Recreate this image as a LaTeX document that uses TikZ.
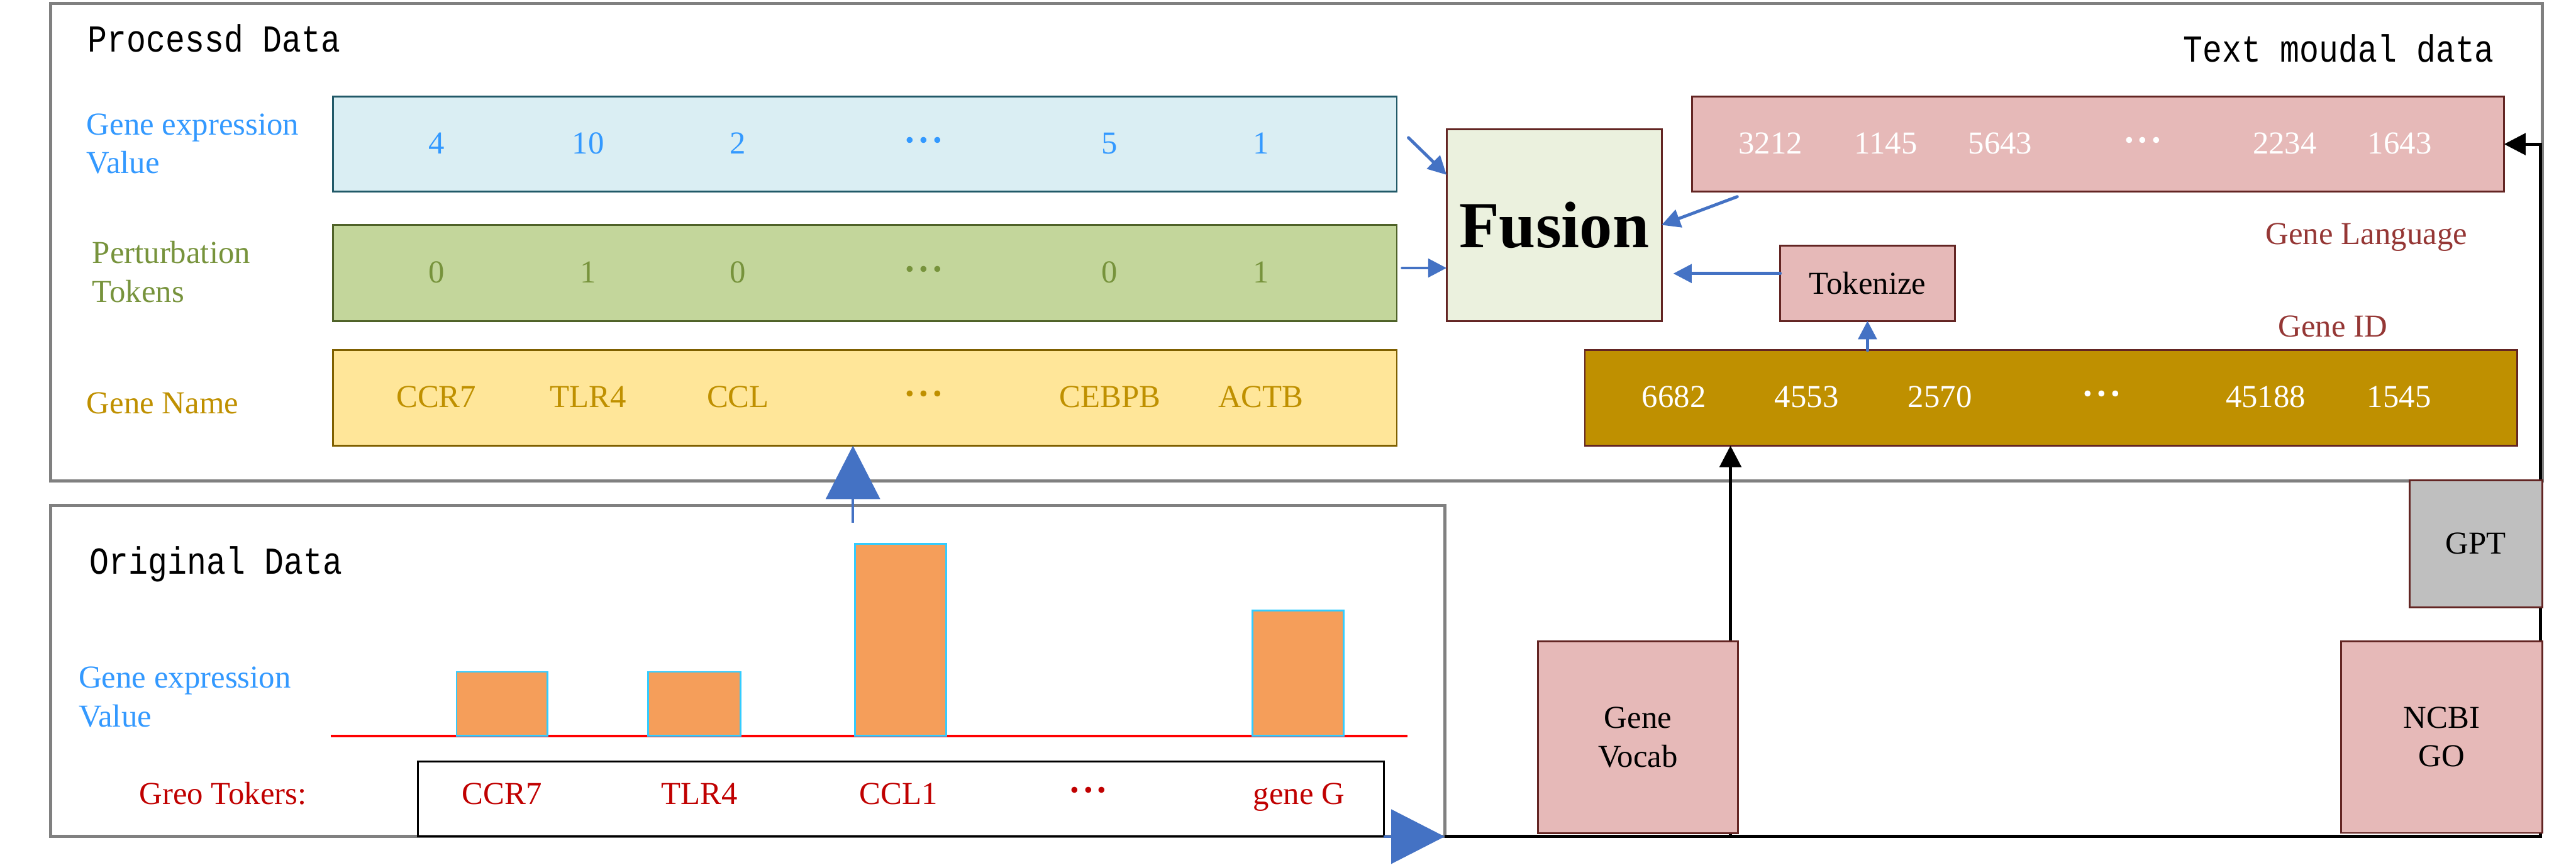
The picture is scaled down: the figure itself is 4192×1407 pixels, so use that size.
\documentclass[tikz,border=0pt]{standalone}
\usepackage{fontspec}
\setmainfont{Liberation Serif}
\newfontfamily\titlefont[FakeStretch=0.85]{Liberation Mono}
\usetikzlibrary{arrows.meta,positioning,calc}

\definecolor{panelgray}{HTML}{808080}
\definecolor{exprfill}{HTML}{DAEEF3}
\definecolor{exprdraw}{HTML}{215968}
\definecolor{exprtext}{HTML}{3399FF}
\definecolor{pertfill}{HTML}{C3D69B}
\definecolor{pertdraw}{HTML}{4F6228}
\definecolor{perttext}{HTML}{77933C}
\definecolor{namefill}{HTML}{FFE699}
\definecolor{namedraw}{HTML}{7F6000}
\definecolor{nametext}{HTML}{BF9000}
\definecolor{pinkfill}{HTML}{E6B9B8}
\definecolor{boxred}{HTML}{632523}
\definecolor{idfill}{HTML}{BF9000}
\definecolor{fusionfill}{HTML}{EBF1DE}
\definecolor{gptfill}{HTML}{BFBFBF}
\definecolor{barorange}{HTML}{F59E5A}
\definecolor{barcyan}{HTML}{33CCFF}
\definecolor{tokred}{HTML}{C00000}
\definecolor{langred}{HTML}{953735}
\definecolor{arrowblue}{HTML}{4472C4}

\newcommand{\bodyfont}{\fontsize{52}{63}\selectfont}
\newcommand{\rowdots}{\raisebox{-5pt}{\fontsize{82}{82}\selectfont·\kern-5pt·\kern-5pt·}}

\tikzset{
    panel/.style={draw=panelgray, line width=5pt, anchor=north west, inner sep=0pt, outer sep=0pt},
    rowbox/.style={line width=3pt, anchor=north west, inner sep=0pt, outer sep=0pt, minimum height=155pt},
    srcbox/.style={draw=boxred, fill=pinkfill, line width=3pt, anchor=north west, inner sep=0pt,
        outer sep=0pt, align=center, font=\bodyfont},
    titletext/.style={font=\titlefont\fontsize{62}{70}\selectfont, inner sep=0pt},
    sidelabel/.style={font=\bodyfont, align=left, inner sep=0pt},
    item/.style={font=\bodyfont, anchor=base, inner sep=0pt},
    bar/.style={draw=barcyan, fill=barorange, line width=3pt},
    bluearrow/.style={draw=arrowblue, line width=5pt, line cap=round, -{Triangle[length=30pt,width=30pt]}},
    bigarrow/.style={draw=arrowblue, line width=4pt, -{Triangle[length=87pt,width=88pt]}},
    blackarrow/.style={draw=black, line width=5pt, -{Triangle[length=35pt,width=35pt]}},
}

\begin{document}
\begin{tikzpicture}[x=1pt, y=-1pt]
    \useasboundingbox (0,0) rectangle (4192,1407);
    % panels
    \node[panel, minimum width=4055pt, minimum height=776pt] (procbox) at (82,6) {};
    \node[panel, minimum width=2269pt, minimum height=539pt] (origbox) at (82,822) {};
    \node[titletext, anchor=base west] (proctitle) at (143,84) {Processd Data};
    \node[titletext, anchor=base east] (texttitle) at (4059,101) {Text moudal data};
    \node[titletext, anchor=base west] (origtitle) at (146,934) {Original Data};

    % processed rows
    \node[rowbox, draw=exprdraw, fill=exprfill, minimum width=1731pt] (exprrow) at (542,157) {};
    \node[rowbox, draw=pertdraw, fill=pertfill, minimum width=1731pt, minimum height=156pt] (pertrow) at (542,366) {};
    \node[rowbox, draw=namedraw, fill=namefill, minimum width=1731pt] (namerow) at (542,570) {};
    \node[sidelabel, text=exprtext, anchor=west] (exprlabel) at (141,234) {Gene expression\\Value};
    \node[sidelabel, text=perttext, anchor=west] (pertlabel) at (150,442) {Perturbation\\Tokens};
    \node[sidelabel, text=nametext, anchor=base west] (namelabel) at (141,673) {Gene Name};
    \foreach \x/\v in {710/4, 957/10, 1201/2, 1503/\rowdots, 1806/5, 2052/1}
        \node[item, text=exprtext] at (\x,250) {\v};
    \foreach \x/\v in {710/0, 957/1, 1201/0, 1503/\rowdots, 1806/0, 2052/1}
        \node[item, text=perttext] at (\x,460) {\v};
    \foreach \x/\v in {710/CCR7, 957/TLR4, 1201/CCL, 1503/\rowdots, 1806/CEBPB, 2052/ACTB}
        \node[item, text=nametext] at (\x,663) {\v};

    % fusion
    \node[draw=boxred, fill=fusionfill, line width=3pt, anchor=north west, outer sep=0pt,
        minimum width=350pt, minimum height=312pt, font=\fontsize{107}{120}\selectfont\bfseries] (fusion) at (2354,210) {Fusion};

    % text modal rows
    \node[rowbox, draw=boxred, fill=pinkfill, minimum width=1321pt] (langrow) at (2754,157) {};
    \node[rowbox, draw=boxred, fill=idfill, minimum width=1517pt] (idrow) at (2579,570) {};
    \foreach \x/\v in {2881/3212, 3069/1145, 3255/5643, 3487/\rowdots, 3718/2234, 3905/1643}
        \node[item, text=white] at (\x,250) {\v};
    \foreach \x/\v in {2724/6682, 2940/4553, 3157/2570, 3420/\rowdots, 3687/45188, 3904/1545}
        \node[item, text=white] at (\x,663) {\v};
    \node[item, text=langred] (langlabel) at (3851,398) {Gene Language};
    \node[item, text=langred] (idlabel) at (3796,548) {Gene ID};
    \node[srcbox, minimum width=284pt, minimum height=122pt] (tok) at (2897,400) {Tokenize};

    % original data
    \draw[red, line width=4pt] (538,1197) -- (2290,1197);
    \foreach \l/\r/\t in {743/891/1093, 1055/1205/1093, 1391/1540/885, 2038/2187/993}
        \draw[bar] (\l,\t) rectangle (\r,1197);
    \node[sidelabel, text=exprtext, anchor=west] (origlabel) at (128,1134) {Gene expression\\Value};
    \node[draw=black, line width=3pt, anchor=north west, outer sep=0pt,
        minimum width=1572pt, minimum height=122pt] (greobox) at (680,1239) {};
    \node[item, text=tokred] (greolabel) at (363,1308) {Greo Tokers:};
    \foreach \x/\v in {817/CCR7, 1138/TLR4, 1462/CCL1, 1771/\rowdots, 2114/gene G}
        \node[item, text=tokred] at (\x,1308) {\v};

    % connectors
    \coordinate (upstart) at (1388,850);
    \draw[bigarrow] (upstart) -- (upstart |- namerow.south);
    \draw[bigarrow] (greobox.south east) -- (origbox.south east);
    \coordinate (rightturn) at (4134,1361);
    \draw[blackarrow] (origbox.south east) -- (rightturn) |- (langrow.east);
    \coordinate (vocabfoot) at (2816,1361);
    \draw[blackarrow] (vocabfoot) -- (vocabfoot |- idrow.south);
    \coordinate (exprout) at (2292,224);
    \coordinate (pertout) at (2282,436);
    \coordinate (langout) at (2827,320);
    \draw[bluearrow] (exprout) -- (fusion.155);
    \draw[bluearrow] (pertout) -- (pertout -| fusion.west);
    \draw[bluearrow] (langout) -- (fusion.east);
    \draw[bluearrow] ($(tok.west)+(0,-16)$) -- ($(tok.west -| fusion.east)+(19,-16)$);
    \draw[bluearrow] (idrow.north -| tok.south) -- (tok.south);

    % sources
    \node[srcbox, minimum width=325pt, minimum height=313pt] (vocab) at (2503,1043) {Gene\\Vocab};
    \node[srcbox, fill=gptfill, minimum width=216pt, minimum height=207pt] (gpt) at (3921,781) {GPT};
    \node[srcbox, minimum width=327pt, minimum height=312pt] (ncbi) at (3810,1043) {NCBI\\GO};
\end{tikzpicture}
\end{document}
